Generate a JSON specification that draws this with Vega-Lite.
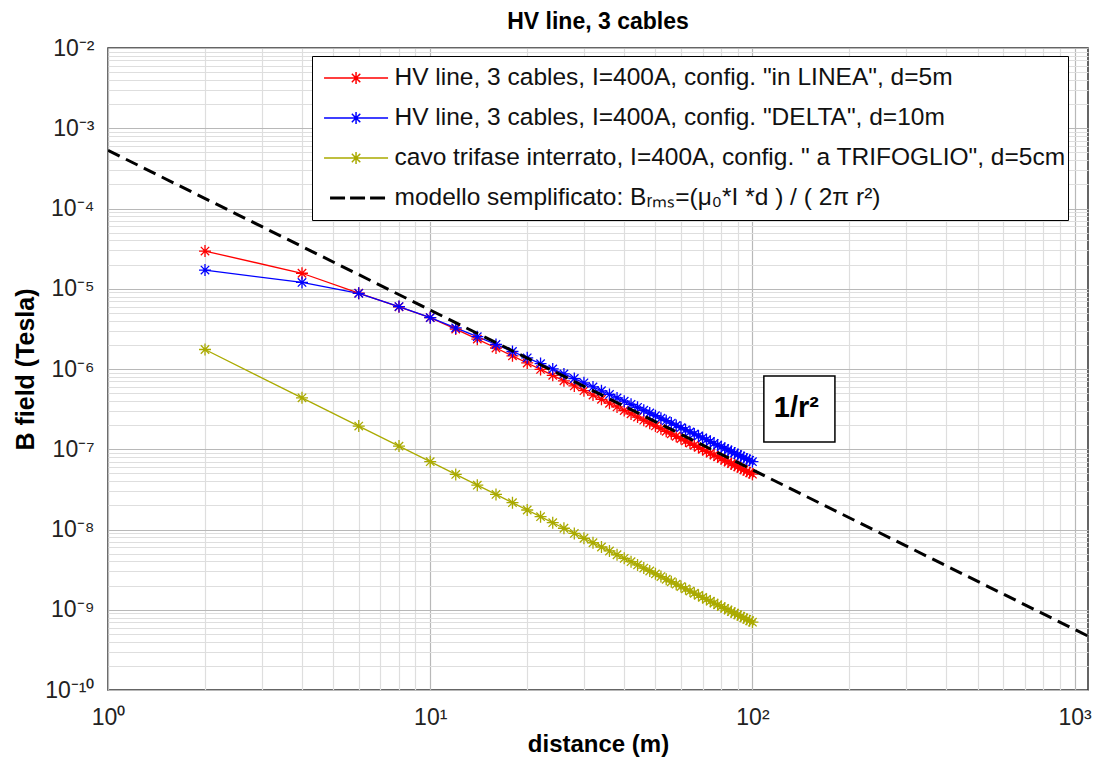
{
  "$schema": "https://vega.github.io/schema/vega-lite/v6.json",
  "autosize": "none",
  "width": 980,
  "height": 642,
  "padding": {"left": 108, "top": 48, "right": 8, "bottom": 75},
  "background": "white",
  "title": {"text": "HV line, 3 cables", "fontSize": 23, "font": "Liberation Sans", "fontWeight": "bold", "color": "black", "offset": 3, "anchor": "middle"},
  "config": {"view": {"stroke": "#333333", "strokeWidth": 1.5}, "font": "Liberation Sans"},
  "datasets": {
    "series": [
      {"s":"r","d":2,"B":2.95e-5},{"s":"r","d":4,"B":1.56e-5},{"s":"r","d":6,"B":8.8e-6},{"s":"r","d":8,"B":5.95e-6},{"s":"r","d":10,"B":4.375e-6},
      {"s":"r","d":12,"B":3.141e-6},{"s":"r","d":14,"B":2.356e-6},{"s":"r","d":16,"B":1.828e-6},{"s":"r","d":18,"B":1.458e-6},{"s":"r","d":20,"B":1.189e-6},
      {"s":"r","d":22,"B":9.879e-7},{"s":"r","d":24,"B":8.333e-7},{"s":"r","d":26,"B":7.122e-7},{"s":"r","d":28,"B":6.156e-7},{"s":"r","d":30,"B":5.373e-7},
      {"s":"r","d":32,"B":4.73e-7},{"s":"r","d":34,"B":4.195e-7},{"s":"r","d":36,"B":3.746e-7},{"s":"r","d":38,"B":3.365e-7},{"s":"r","d":40,"B":3.04e-7},
      {"s":"r","d":42,"B":2.759e-7},{"s":"r","d":44,"B":2.515e-7},{"s":"r","d":46,"B":2.303e-7},{"s":"r","d":48,"B":2.116e-7},{"s":"r","d":50,"B":1.951e-7},
      {"s":"r","d":52,"B":1.804e-7},{"s":"r","d":54,"B":1.673e-7},{"s":"r","d":56,"B":1.557e-7},{"s":"r","d":58,"B":1.451e-7},{"s":"r","d":60,"B":1.357e-7},
      {"s":"r","d":62,"B":1.271e-7},{"s":"r","d":64,"B":1.193e-7},{"s":"r","d":66,"B":1.122e-7},{"s":"r","d":68,"B":1.057e-7},{"s":"r","d":70,"B":9.976e-8},
      {"s":"r","d":72,"B":9.43e-8},{"s":"r","d":74,"B":8.929e-8},{"s":"r","d":76,"B":8.466e-8},{"s":"r","d":78,"B":8.038e-8},{"s":"r","d":80,"B":7.642e-8},
      {"s":"r","d":82,"B":7.274e-8},{"s":"r","d":84,"B":6.933e-8},{"s":"r","d":86,"B":6.614e-8},{"s":"r","d":88,"B":6.318e-8},{"s":"r","d":90,"B":6.04e-8},
      {"s":"r","d":92,"B":5.781e-8},{"s":"r","d":94,"B":5.538e-8},{"s":"r","d":96,"B":5.31e-8},{"s":"r","d":98,"B":5.096e-8},{"s":"r","d":100,"B":4.894e-8},
      {"s":"b","d":2,"B":1.71e-5},{"s":"b","d":4,"B":1.2e-5},{"s":"b","d":6,"B":8.77e-6},{"s":"b","d":8,"B":6.0e-6},{"s":"b","d":10,"B":4.358e-6},
      {"s":"b","d":12,"B":3.254e-6},{"s":"b","d":14,"B":2.526e-6},{"s":"b","d":16,"B":2.019e-6},{"s":"b","d":18,"B":1.653e-6},{"s":"b","d":20,"B":1.378e-6},
      {"s":"b","d":22,"B":1.167e-6},{"s":"b","d":24,"B":1.001e-6},{"s":"b","d":26,"B":8.686e-7},{"s":"b","d":28,"B":7.607e-7},{"s":"b","d":30,"B":6.719e-7},
      {"s":"b","d":32,"B":5.977e-7},{"s":"b","d":34,"B":5.353e-7},{"s":"b","d":36,"B":4.821e-7},{"s":"b","d":38,"B":4.366e-7},{"s":"b","d":40,"B":3.972e-7},
      {"s":"b","d":42,"B":3.629e-7},{"s":"b","d":44,"B":3.329e-7},{"s":"b","d":46,"B":3.064e-7},{"s":"b","d":48,"B":2.83e-7},{"s":"b","d":50,"B":2.622e-7},
      {"s":"b","d":52,"B":2.436e-7},{"s":"b","d":54,"B":2.269e-7},{"s":"b","d":56,"B":2.119e-7},{"s":"b","d":58,"B":1.983e-7},{"s":"b","d":60,"B":1.86e-7},
      {"s":"b","d":62,"B":1.748e-7},{"s":"b","d":64,"B":1.646e-7},{"s":"b","d":66,"B":1.552e-7},{"s":"b","d":68,"B":1.466e-7},{"s":"b","d":70,"B":1.388e-7},
      {"s":"b","d":72,"B":1.315e-7},{"s":"b","d":74,"B":1.248e-7},{"s":"b","d":76,"B":1.186e-7},{"s":"b","d":78,"B":1.128e-7},{"s":"b","d":80,"B":1.075e-7},
      {"s":"b","d":82,"B":1.025e-7},{"s":"b","d":84,"B":9.789e-8},{"s":"b","d":86,"B":9.356e-8},{"s":"b","d":88,"B":8.951e-8},{"s":"b","d":90,"B":8.572e-8},
      {"s":"b","d":92,"B":8.217e-8},{"s":"b","d":94,"B":7.883e-8},{"s":"b","d":96,"B":7.57e-8},{"s":"b","d":98,"B":7.274e-8},{"s":"b","d":100,"B":6.996e-8},
      {"s":"y","d":2,"B":1.75e-6},{"s":"y","d":4,"B":4.375e-7},{"s":"y","d":6,"B":1.944e-7},{"s":"y","d":8,"B":1.094e-7},{"s":"y","d":10,"B":7.0e-8},
      {"s":"y","d":12,"B":4.861e-8},{"s":"y","d":14,"B":3.571e-8},{"s":"y","d":16,"B":2.734e-8},{"s":"y","d":18,"B":2.16e-8},{"s":"y","d":20,"B":1.75e-8},
      {"s":"y","d":22,"B":1.446e-8},{"s":"y","d":24,"B":1.215e-8},{"s":"y","d":26,"B":1.036e-8},{"s":"y","d":28,"B":8.929e-9},{"s":"y","d":30,"B":7.778e-9},
      {"s":"y","d":32,"B":6.836e-9},{"s":"y","d":34,"B":6.055e-9},{"s":"y","d":36,"B":5.401e-9},{"s":"y","d":38,"B":4.848e-9},{"s":"y","d":40,"B":4.375e-9},
      {"s":"y","d":42,"B":3.968e-9},{"s":"y","d":44,"B":3.616e-9},{"s":"y","d":46,"B":3.308e-9},{"s":"y","d":48,"B":3.038e-9},{"s":"y","d":50,"B":2.8e-9},
      {"s":"y","d":52,"B":2.589e-9},{"s":"y","d":54,"B":2.401e-9},{"s":"y","d":56,"B":2.232e-9},{"s":"y","d":58,"B":2.081e-9},{"s":"y","d":60,"B":1.944e-9},
      {"s":"y","d":62,"B":1.821e-9},{"s":"y","d":64,"B":1.709e-9},{"s":"y","d":66,"B":1.607e-9},{"s":"y","d":68,"B":1.514e-9},{"s":"y","d":70,"B":1.429e-9},
      {"s":"y","d":72,"B":1.35e-9},{"s":"y","d":74,"B":1.278e-9},{"s":"y","d":76,"B":1.212e-9},{"s":"y","d":78,"B":1.151e-9},{"s":"y","d":80,"B":1.094e-9},
      {"s":"y","d":82,"B":1.041e-9},{"s":"y","d":84,"B":9.921e-10},{"s":"y","d":86,"B":9.465e-10},{"s":"y","d":88,"B":9.039e-10},{"s":"y","d":90,"B":8.642e-10},
      {"s":"y","d":92,"B":8.27e-10},{"s":"y","d":94,"B":7.922e-10},{"s":"y","d":96,"B":7.595e-10},{"s":"y","d":98,"B":7.289e-10},{"s":"y","d":100,"B":7.0e-10}
    ],
    "model": [{"s":"m","d":1,"B":5.3e-4},{"s":"m","d":1100,"B":4.7e-10}],
    "box": [{"d":108.5,"d2":180.3,"B":8.18e-7,"B2":1.23e-7}],
    "note": [{"d":136.9,"B":3.27e-7,"label":"1/r²"}]
  },
  "layer": [
    {
      "data": {"name": "series"},
      "mark": {"type": "line", "strokeWidth": 1.3, "clip": true,
        "point": {"shape": "M0,-1V1M-1,0H1M-0.7,-0.7L0.7,0.7M-0.7,0.7L0.7,-0.7", "size": 144, "filled": false, "strokeWidth": 1.3}},
      "encoding": {
        "x": {"field": "d", "type": "quantitative", "title": "distance (m)",
          "scale": {"type": "log", "domain": [1, 1100], "nice": false},
          "axis": {
            "values": [1,2,3,4,5,6,7,8,9,10,20,30,40,50,60,70,80,90,100,200,300,400,500,600,700,800,900,1000],
            "labelExpr": "abs(log(datum.value)/LN10 - round(log(datum.value)/LN10)) < 0.000001 ? '10' + ['⁰','¹','²','³'][round(log(datum.value)/LN10)] : ''",
            "grid": true,
            "gridColor": {"condition": {"test": "abs(log(datum.value)/LN10 - round(log(datum.value)/LN10)) < 0.000001", "value": "#b8b8b8"}, "value": "#dedede"},
            "gridWidth": 1.2,
            "ticks": false, "domain": false,
            "labelFontSize": 23, "labelColor": "#222222", "labelFont": "Liberation Sans", "labelPadding": 16,
            "labelFlush": false, "labelOverlap": false, "labelBound": false,
            "titleFontSize": 24, "titleFontWeight": "bold", "titleColor": "black", "titleFont": "Liberation Sans", "titlePadding": 3
          }},
        "y": {"field": "B", "type": "quantitative", "title": "B field (Tesla)",
          "scale": {"type": "log", "domain": [1e-10, 1e-2], "nice": false},
          "axis": {
            "values": [1e-10,2e-10,3e-10,4e-10,5e-10,6e-10,7e-10,8e-10,9e-10,1e-9,2e-9,3e-9,4e-9,5e-9,6e-9,7e-9,8e-9,9e-9,1e-8,2e-8,3e-8,4e-8,5e-8,6e-8,7e-8,8e-8,9e-8,1e-7,2e-7,3e-7,4e-7,5e-7,6e-7,7e-7,8e-7,9e-7,1e-6,2e-6,3e-6,4e-6,5e-6,6e-6,7e-6,8e-6,9e-6,1e-5,2e-5,3e-5,4e-5,5e-5,6e-5,7e-5,8e-5,9e-5,1e-4,2e-4,3e-4,4e-4,5e-4,6e-4,7e-4,8e-4,9e-4,1e-3,2e-3,3e-3,4e-3,5e-3,6e-3,7e-3,8e-3,9e-3,1e-2],
            "labelExpr": "abs(log(datum.value)/LN10 - round(log(datum.value)/LN10)) < 0.000001 ? '10' + ['⁻²','⁻³','⁻⁴','⁻⁵','⁻⁶','⁻⁷','⁻⁸','⁻⁹','⁻¹⁰'][-round(log(datum.value)/LN10) - 2] : ''",
            "grid": true,
            "gridColor": {"condition": {"test": "abs(log(datum.value)/LN10 - round(log(datum.value)/LN10)) < 0.000001", "value": "#b8b8b8"}, "value": "#dedede"},
            "gridWidth": 1.2,
            "ticks": false, "domain": false,
            "labelFontSize": 23, "labelColor": "#222222", "labelFont": "Liberation Sans", "labelPadding": 14,
            "labelFlush": false, "labelOverlap": false, "labelBound": false,
            "titleFontSize": 25, "titleFontWeight": "bold", "titleColor": "black", "titleFont": "Liberation Sans", "titlePadding": 6
          }},
        "color": {"field": "s", "type": "nominal",
          "scale": {"domain": ["r", "b", "y", "m"], "range": ["#ff0000", "#0000ff", "#aaaa00", "#000000"]},
          "legend": {
            "title": null, "orient": "none", "legendX": 204, "legendY": 8,
            "direction": "vertical",
            "fillColor": "white", "strokeColor": "black", "padding": 2,
            "symbolType": "M-0.11,0H3.09", "symbolSize": 1600, "symbolStrokeWidth": 1.5, "clipHeight": 40, "rowPadding": 0,
            "labelFontSize": 24.5, "labelFont": "Liberation Sans", "labelColor": "#111111", "labelOffset": 56, "labelLimit": 900,
            "labelExpr": "datum.value === 'r' ? 'HV line, 3 cables, I=400A, config. \"in LINEA\", d=5m' : datum.value === 'b' ? 'HV line, 3 cables, I=400A, config. \"DELTA\", d=10m' : datum.value === 'y' ? 'cavo trifase interrato, I=400A, config. \" a TRIFOGLIO\", d=5cm' : 'modello semplificato: Bᵣₘₛ=(μ₀*I *d ) / ( 2π r²)'",
            "encode": {"symbols": {"update": {
              "shape": {"signal": "datum.value === 'm' ? 'M0.19,0H3.09' : 'M-0.11,0H3.09M1.49,-0.3V0.3M1.19,0H1.79M1.28,-0.21L1.7,0.21M1.28,0.21L1.7,-0.21'"},
              "strokeDash": {"signal": "datum.value === 'm' ? [15,5] : [1,0]"},
              "strokeWidth": {"signal": "datum.value === 'm' ? 3 : 1.5"},
              "fill": {"value": "transparent"}
            }}}
          }}
      }
    },
    {
      "data": {"name": "model"},
      "mark": {"type": "line", "strokeWidth": 3, "strokeDash": [13, 7], "clip": true},
      "encoding": {
        "x": {"field": "d", "type": "quantitative", "title": "distance (m)"},
        "y": {"field": "B", "type": "quantitative", "title": "B field (Tesla)"},
        "color": {"field": "s", "type": "nominal"}
      }
    },
    {
      "data": {"name": "box"},
      "mark": {"type": "rect", "fill": "white", "stroke": "black", "strokeWidth": 1.5},
      "encoding": {
        "x": {"field": "d", "type": "quantitative", "title": "distance (m)"},
        "x2": {"field": "d2"},
        "y": {"field": "B", "type": "quantitative", "title": "B field (Tesla)"},
        "y2": {"field": "B2"}
      }
    },
    {
      "data": {"name": "note"},
      "mark": {"type": "text", "fontSize": 29, "fontWeight": "bold", "font": "Liberation Sans", "color": "black", "align": "center", "baseline": "middle"},
      "encoding": {
        "x": {"field": "d", "type": "quantitative", "title": "distance (m)"},
        "y": {"field": "B", "type": "quantitative", "title": "B field (Tesla)"},
        "text": {"field": "label"}
      }
    }
  ]
}
